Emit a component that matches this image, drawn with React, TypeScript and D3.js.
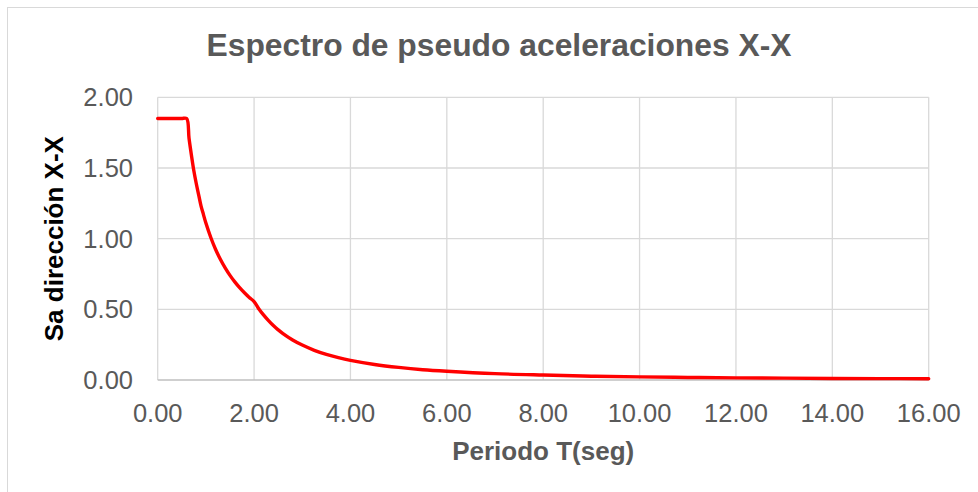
import React from "react";
import * as d3 from "d3";

// Pseudo-acceleration spectrum, X-X direction
const periods = [
  0, 0.1, 0.2, 0.3, 0.4, 0.5, 0.6, 0.65, 0.7, 0.75, 0.8, 0.85, 0.9, 0.95, 1.0,
  1.1, 1.2, 1.3, 1.4, 1.5, 1.6, 1.7, 1.8, 1.9, 2.0, 2.1, 2.2, 2.3, 2.4, 2.5,
  2.6, 2.8, 3.0, 3.25, 3.5, 3.75, 4.0, 4.5, 5.0, 5.5, 6.0, 7.0, 8.0, 9.0, 10.0,
  11.0, 12.0, 13.0, 14.0, 15.0, 16.0,
];
const saValues = [
  1.85, 1.85, 1.85, 1.85, 1.85, 1.85, 1.85, 1.71, 1.59, 1.48, 1.39, 1.31, 1.23,
  1.17, 1.11, 1.01, 0.925, 0.854, 0.793, 0.74, 0.694, 0.653, 0.617, 0.584,
  0.555, 0.503, 0.459, 0.42, 0.385, 0.355, 0.328, 0.283, 0.247, 0.21, 0.181,
  0.158, 0.139, 0.11, 0.089, 0.073, 0.062, 0.045, 0.035, 0.027, 0.022, 0.018,
  0.015, 0.013, 0.011, 0.01, 0.009,
];
const xTicks = [0, 2, 4, 6, 8, 10, 12, 14, 16];
const yTicks = [0, 0.5, 1.0, 1.5, 2.0];

const titleText = "Espectro de pseudo aceleraciones X-X";
const xTitle = "Periodo T(seg)";
const yTitle = "Sa dirección X-X";

const W = 978;
const H = 492;
const plot = { left: 157.7, right: 928.7, top: 97.3, bottom: 380 };
const font = "'Liberation Sans', Arial, sans-serif";
const textColor = "#595959";

export default function App() {
  const x = d3.scaleLinear().domain([0, 16]).range([plot.left, plot.right]);
  const y = d3.scaleLinear().domain([0, 2]).range([plot.bottom, plot.top]);

  const points: [number, number][] = periods.map((t, i) => [t, saValues[i]]);
  const line = d3
    .line<[number, number]>()
    .x((d) => x(d[0]))
    .y((d) => y(d[1]))
    .curve(d3.curveCatmullRom.alpha(0.5));

  const cx = (plot.left + plot.right) / 2;
  const cy = (plot.top + plot.bottom) / 2;

  return (
    <svg
      width={W}
      height={H}
      style={{ position: "absolute", left: 0, top: 0, background: "#fff" }}
      fontFamily={font}
    >
      <rect x={7.5} y={7.5} width={W} height={H} fill="#fff" stroke="#d9d9d9" strokeWidth={1} />

      {/* gridlines */}
      {yTicks.slice(1).map((v) => (
        <line key={"gy" + v} x1={plot.left} x2={plot.right} y1={y(v)} y2={y(v)} stroke="#d9d9d9" strokeWidth={1.3} />
      ))}
      {xTicks.map((v) => (
        <line key={"gx" + v} x1={x(v)} x2={x(v)} y1={plot.top} y2={plot.bottom} stroke="#d9d9d9" strokeWidth={1.3} />
      ))}
      {/* x axis line */}
      <line x1={plot.left} x2={plot.right} y1={y(0)} y2={y(0)} stroke="#bfbfbf" strokeWidth={1.3} />

      {/* tick labels */}
      {yTicks.map((v) => (
        <text key={"ty" + v} x={133} y={y(v) + 9} textAnchor="end" fontSize={25.5} fill={textColor}>
          {v.toFixed(2)}
        </text>
      ))}
      {xTicks.map((v) => (
        <text key={"tx" + v} x={x(v)} y={421.7} textAnchor="middle" fontSize={25.5} fill={textColor}>
          {v.toFixed(2)}
        </text>
      ))}

      {/* spectrum curve */}
      <path
        d={line(points) || ""}
        fill="none"
        stroke="#ff0000"
        strokeWidth={3.4}
        strokeLinecap="round"
        strokeLinejoin="round"
      />

      {/* titles */}
      <text x={499} y={56} textAnchor="middle" fontSize={31.8} fontWeight="bold" fill={textColor}>
        {titleText}
      </text>
      <text x={cx} y={460} textAnchor="middle" fontSize={26} fontWeight="bold" fill={textColor}>
        {xTitle}
      </text>
      <text
        transform={`translate(63,${cy}) rotate(-90)`}
        textAnchor="middle"
        fontSize={26}
        fontWeight="bold"
        fill="#000"
      >
        {yTitle}
      </text>
    </svg>
  );
}
